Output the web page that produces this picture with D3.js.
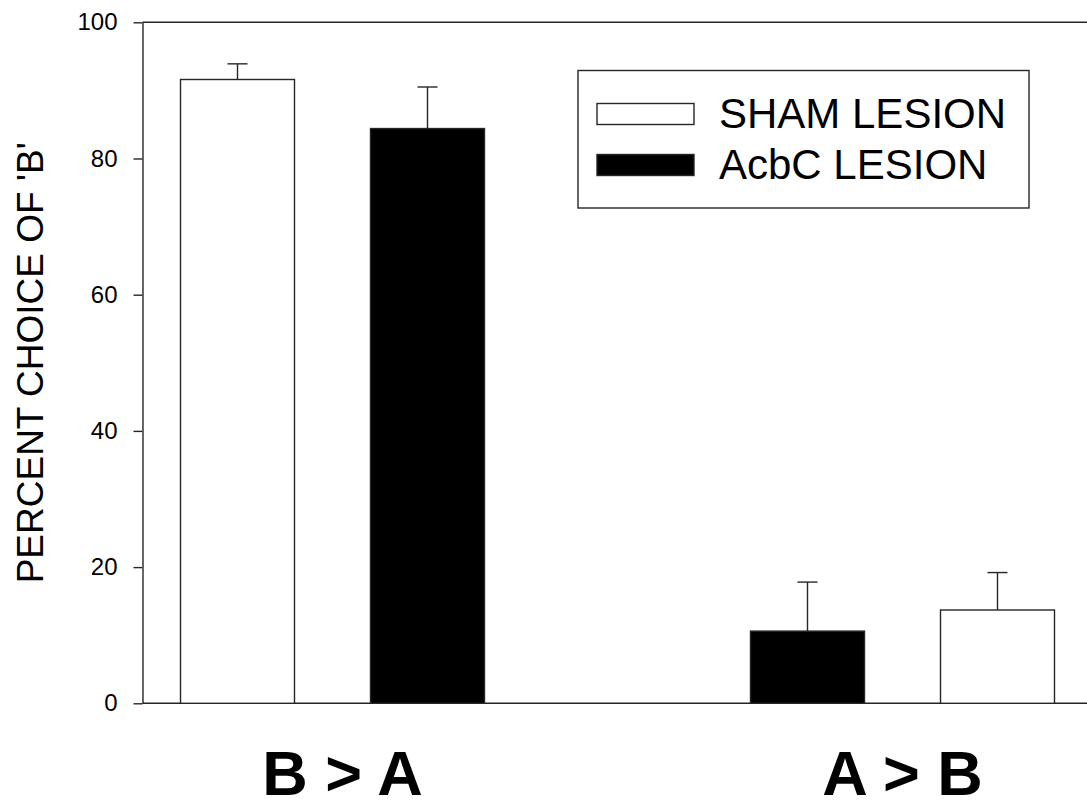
<!DOCTYPE html>
<html>
<head>
<meta charset="utf-8">
<script src="https://cdn.jsdelivr.net/npm/d3@7/dist/d3.min.js"></script>
<style>
  html, body { margin: 0; padding: 0; background: #fff; }
  svg { display: block; font-family: "Liberation Sans", Arial, sans-serif; }
</style>
</head>
<body>
<svg id="chart" width="1087" height="802"></svg>
<script>
// groups on the x axis, and the order their bars are drawn in
var groups = ["B > A", "A > B"];
var groupSeries = [["SHAM LESION", "AcbC LESION"], ["AcbC LESION", "SHAM LESION"]];
// means and upper error (mean + SEM), same order as groupSeries
var groupMeans = [[91.6, 84.4], [10.6, 13.7]];
var groupErrTop = [[93.9, 90.5], [17.8, 19.2]];
var legendItems = ["SHAM LESION", "AcbC LESION"];
var yTicks = [0, 20, 40, 60, 80, 100];

var fills = {"SHAM LESION": "#fff", "AcbC LESION": "#000"};
var ink = "#262626";

var svg = d3.select("#chart");
var plotL = 142.5, plotT = 22.3, plotB = 703.3, plotR = 1092.5;

// five slots: two bars, a gap, two bars
var slots = [];
groups.forEach(function(g, gi){
    groupSeries[gi].forEach(function(s, si){
        slots.push({group: g, gi: gi, series: s, mean: groupMeans[gi][si], err: groupErrTop[gi][si], key: g + "|" + s});
    });
    if(gi < groups.length - 1) slots.push({key: "gap" + gi});
});

var x = d3.scaleBand().domain(slots.map(function(d){return d.key;}))
    .range([plotL, plotR]).paddingInner(0.4).paddingOuter(0.2);
var y = d3.scaleLinear().domain([0, 100]).range([plotB, plotT]);

var bars = slots.filter(function(d){return d.series;});

// frame top line and x axis line
svg.append("line").attr("x1", plotL).attr("x2", 1087).attr("y1", y(100)).attr("y2", y(100))
    .attr("stroke", ink).attr("stroke-width", 1.4);
svg.append("line").attr("x1", plotL).attr("x2", 1087).attr("y1", y(0)).attr("y2", y(0))
    .attr("stroke", ink).attr("stroke-width", 1.4);

// error bars (drawn before bars so the stem sits on the bar top)
var eb = svg.append("g").attr("stroke", ink).attr("stroke-width", 1.4);
eb.selectAll("line.stem").data(bars).enter().append("line").attr("class", "stem")
    .attr("x1", function(d){return x(d.key) + x.bandwidth()/2;})
    .attr("x2", function(d){return x(d.key) + x.bandwidth()/2;})
    .attr("y1", function(d){return y(d.mean);})
    .attr("y2", function(d){return y(d.err);});
eb.selectAll("line.cap").data(bars).enter().append("line").attr("class", "cap")
    .attr("x1", function(d){return x(d.key) + x.bandwidth()/2 - 10;})
    .attr("x2", function(d){return x(d.key) + x.bandwidth()/2 + 10;})
    .attr("y1", function(d){return y(d.err);})
    .attr("y2", function(d){return y(d.err);});

svg.append("g").selectAll("rect").data(bars).enter().append("rect")
    .attr("x", function(d){return x(d.key);})
    .attr("y", function(d){return y(d.mean);})
    .attr("width", x.bandwidth())
    .attr("height", function(d){return y(0) - y(d.mean);})
    .attr("fill", function(d){return fills[d.series];})
    .attr("stroke", ink).attr("stroke-width", 1.4);

// y axis
var yAxis = svg.append("g").attr("transform", "translate(" + plotL + ",0)")
    .call(d3.axisLeft(y).tickValues(yTicks).tickSize(9).tickPadding(16).tickSizeOuter(0));
yAxis.select(".domain").attr("stroke", ink).attr("stroke-width", 1.4);
yAxis.selectAll(".tick line").attr("stroke", ink).attr("stroke-width", 1.4);
yAxis.selectAll(".tick text").attr("font-size", 24).attr("fill", "#000")
    .attr("font-family", "'Liberation Sans', Arial, sans-serif");

svg.append("text")
    .attr("transform", "translate(43," + ((plotT + plotB)/2) + ") rotate(-90)")
    .attr("text-anchor", "middle").attr("font-size", 37).attr("fill", "#000")
    .text("PERCENT CHOICE OF 'B'");

// group labels under the axis
svg.append("g").selectAll("text").data(groups).enter().append("text")
    .attr("x", function(g, gi){
        var b = bars.filter(function(d){return d.gi == gi;});
        return (x(b[0].key) + x(b[b.length-1].key) + x.bandwidth())/2 + (gi == 0 ? 10 : 0);
    })
    .attr("y", 795)
    .attr("text-anchor", "middle").attr("font-size", 63).attr("font-weight", "bold")
    .text(function(g){return g;});

// legend
var lg = svg.append("g");
lg.append("rect").attr("x", 578).attr("y", 70.5).attr("width", 451).attr("height", 137.5)
    .attr("fill", "#fff").attr("stroke", ink).attr("stroke-width", 1.4);
var li = lg.selectAll("g.item").data(legendItems).enter().append("g").attr("class", "item")
    .attr("transform", function(d, i){return "translate(0," + (i * 51) + ")";});
li.append("rect").attr("x", 597).attr("y", 103.5).attr("width", 97).attr("height", 21)
    .attr("fill", function(d){return fills[d];}).attr("stroke", ink).attr("stroke-width", 1.4);
li.append("text").attr("x", 719).attr("y", 128).attr("font-size", 42).attr("fill", "#000")
    .text(function(d){return d;});
</script>
</body>
</html>
